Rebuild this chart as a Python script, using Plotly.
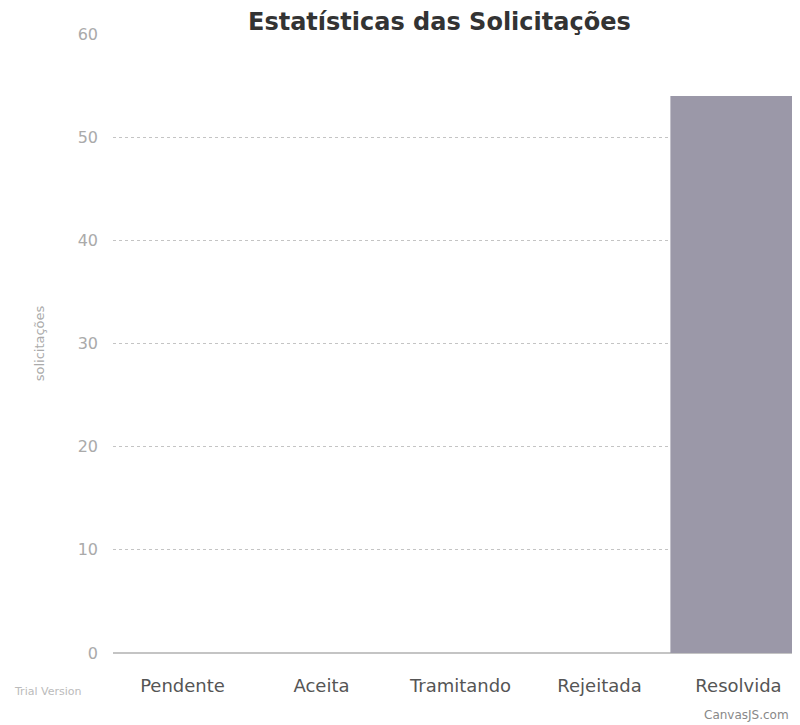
import plotly.graph_objects as go

categories = ["Pendente", "Aceita", "Tramitando", "Rejeitada", "Resolvida"]
values = [0, 0, 0, 0, 54]
y_ticks = [0, 10, 20, 30, 40, 50, 60]

fig = go.Figure(go.Bar(
    x=categories, y=values,
    marker=dict(color="#9b98a8", line=dict(width=0)),
    width=0.98,
))

fig.update_layout(
    width=800, height=725,
    margin=dict(l=105, r=0, t=26, b=80),
    paper_bgcolor="white", plot_bgcolor="white",
    showlegend=False,
    font=dict(family="DejaVu Sans", color="#555"),
)
fig.update_xaxes(
    range=[-0.5, 4.5], showgrid=False, showline=False, ticks="",
    tickfont=dict(size=18, color="#555", family="DejaVu Sans"),
    ticklabelstandoff=20,
)
fig.update_yaxes(
    range=[0, 60], tickvals=y_ticks, showgrid=True, gridcolor="#c4c4c4",
    gridwidth=1, griddash="dot", zeroline=True, zerolinecolor="#c4c4c4",
    showline=False, ticks="",
    tickfont=dict(size=16, color="#aaa", family="DejaVu Sans"),
    ticklabelstandoff=14,
    title=dict(text="solicitações", font=dict(size=13, color="#aaa"), standoff=30),
)

fig.add_annotation(
    text="<b>Estatísticas das Solicitações</b>", xref="paper", yref="paper",
    x=0.47, y=1.0, yshift=12, xanchor="center", yanchor="middle",
    showarrow=False, font=dict(size=24, color="#333", family="DejaVu Sans"),
)
fig.add_annotation(
    text="Trial Version", xref="paper", yref="paper", x=-0.145, y=0, yshift=-38,
    xanchor="left", yanchor="middle", showarrow=False,
    font=dict(size=11, color="#bbb"),
)
fig.add_annotation(
    text="CanvasJS.com", xref="paper", yref="paper", x=0.975, y=0, yshift=-62,
    xanchor="right", yanchor="middle", showarrow=False,
    font=dict(size=12, color="#888"),
)

fig.write_html("out.html")
